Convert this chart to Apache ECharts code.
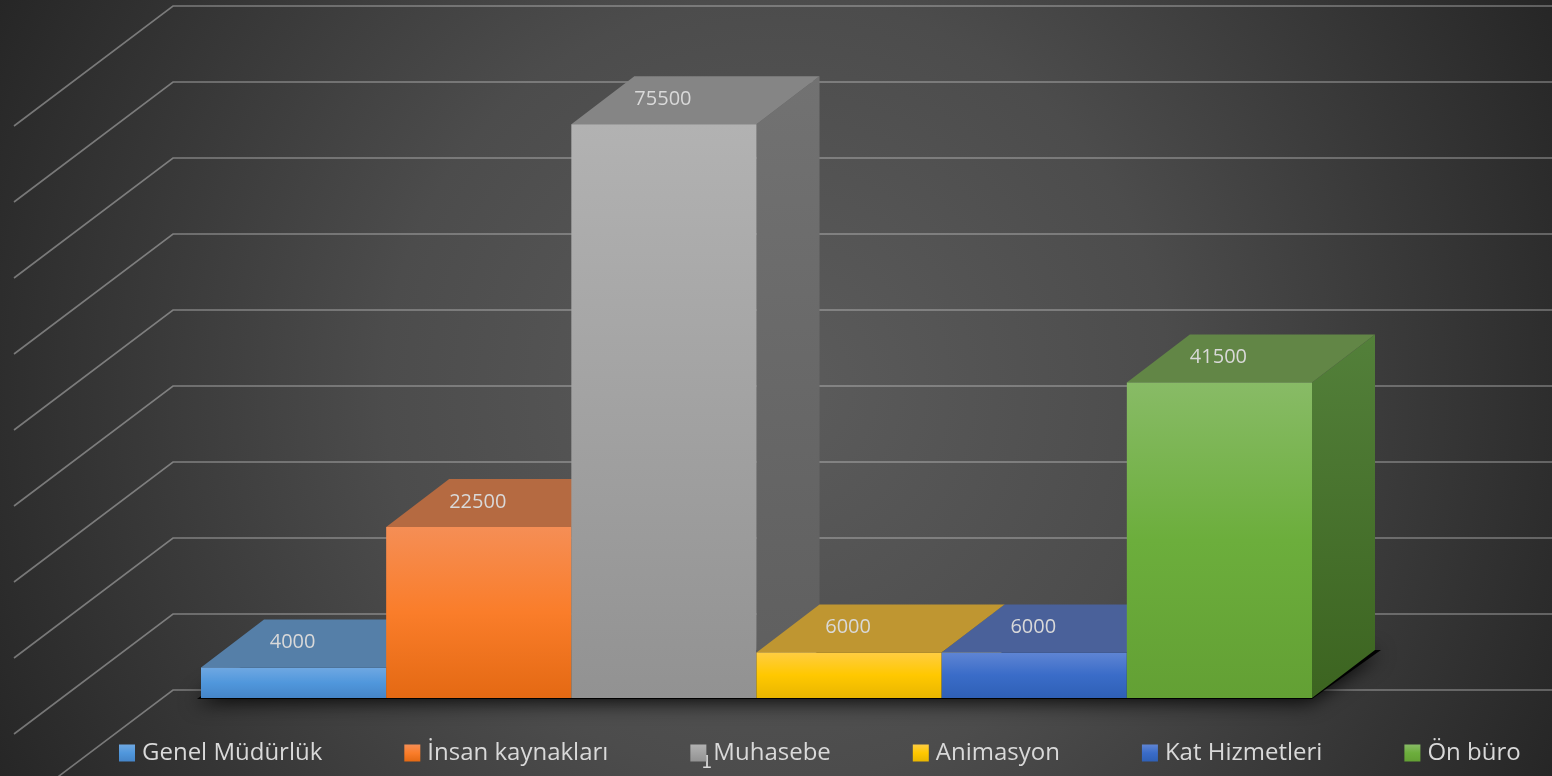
<!DOCTYPE html>
<html>
<head>
<meta charset="utf-8">
<style>
html, body { margin: 0; padding: 0; background: #333; }
#chart { width: 1552px; height: 776px; }
</style>
<script src="https://cdn.jsdelivr.net/npm/echarts@6/dist/echarts.min.js"></script>
</head>
<body>
<div id="chart"></div>
<script>
// veriler
var aNames = ['Genel Müdürlük', 'İnsan kaynakları', 'Muhasebe', 'Animasyon', 'Kat Hizmetleri', 'Ön büro'];
var aValues = [4000, 22500, 75500, 6000, 6000, 41500];
var aGridValues = [0, 10000, 20000, 30000, 40000, 50000, 60000, 70000, 80000, 90000];
var sAxisLabel = '1';

// renkler: on yuz gradyani (ust, orta, alt), ust yuz, yan yuz (ust, alt)
var aFront = [
    ['#6fa8e2', '#5097dc', '#4585c8'],
    ['#f58e55', '#fa7d2a', '#e46913'],
    ['#b2b2b2', '#a2a2a2', '#929292'],
    ['#ffcd42', '#ffc800', '#e9b600'],
    ['#5f85d4', '#3a6cc8', '#2f60b6'],
    ['#88bb66', '#6cae3c', '#63a034']
];
var aTop = ['#557fa8', '#b56a41', '#858585', '#bf9631', '#4a619a', '#628646'];
var aSide = [
    ['#4d749c', '#3c5f84'],
    ['#a85f33', '#94500f'],
    ['#727272', '#5e5e5e'],
    ['#a88414', '#8f7000'],
    ['#3f5c9c', '#2c4a85'],
    ['#53803a', '#3c6420']
];

var iDepthX = 63, iDepthY = 48;     // bar derinligi
var iWallX = 173, iWallShift = -8;  // arka duvar
var iSlantX = 14, iSlantY = 120;    // yan duvar cizgileri

function Gradient(aStops) {
    var aColor = [];
    for (var i = 0; i < aStops.length; i++) {
        aColor.push({offset: i / (aStops.length - 1), color: aStops[i]});
    }
    return {type: 'linear', x: 0, y: 0, x2: 0, y2: 1, colorStops: aColor};
}

function RenderGrid(params, api) {
    var y = api.coord([0, api.value(0)])[1] + iWallShift;
    var oStyle = {stroke: 'rgba(225,225,225,0.42)', lineWidth: 1.6, fill: 'none'};
    return {
        type: 'polyline',
        silent: true,
        shape: {points: [[iSlantX, y + iSlantY], [iWallX, y], [1552, y]]},
        style: oStyle
    };
}

function RenderShadow(params, api) {
    var iLast = aNames.length - 1;
    var aLeft = api.coord([0, 0]);
    var aRight = api.coord([iLast, 0]);
    var w = api.size([1, 0])[0];
    var x0 = aLeft[0] - w / 2, x1 = aRight[0] + w / 2, y = aLeft[1];
    return {
        type: 'polygon',
        silent: true,
        shape: {points: [[x0 - 4, y + 1], [x1, y + 1], [x1 + iDepthX + 6, y - iDepthY], [x0 + iDepthX, y - iDepthY]]},
        style: {fill: 'rgba(0,0,0,0.95)', shadowBlur: 20, shadowColor: 'rgba(0,0,0,0.95)', shadowOffsetX: -2, shadowOffsetY: 3}
    };
}

function RenderBar(params, api) {
    var i = params.seriesIndex - 2;
    var aTopPt = api.coord([api.value(0), api.value(1)]);
    var aBase = api.coord([api.value(0), 0]);
    var w = api.size([1, 0])[0];
    var x0 = aTopPt[0] - w / 2, x1 = aTopPt[0] + w / 2, yTop = aTopPt[1], yBase = aBase[1];
    return {
        type: 'group',
        silent: true,
        children: [
            {
                type: 'polygon',
                shape: {points: [[x1, yTop], [x1 + iDepthX, yTop - iDepthY], [x1 + iDepthX, yBase - iDepthY], [x1, yBase]]},
                style: {fill: Gradient(aSide[i])}
            },
            {
                type: 'polygon',
                shape: {points: [[x0, yTop], [x0 + iDepthX, yTop - iDepthY], [x1 + iDepthX, yTop - iDepthY], [x1, yTop]]},
                style: {fill: aTop[i]}
            },
            {
                type: 'rect',
                shape: {x: x0, y: yTop, width: w, height: yBase - yTop},
                style: {fill: Gradient(aFront[i])}
            },
            {
                type: 'text',
                style: {
                    text: String(api.value(1)),
                    x: aTopPt[0] - 1,
                    y: yTop - 25,
                    align: 'center',
                    verticalAlign: 'middle',
                    fill: '#d9d9d9',
                    font: '20px "Open Sans"'
                }
            }
        ]
    };
}

var aSeries = [
    {
        type: 'custom',
        name: 'grid',
        renderItem: RenderGrid,
        data: aGridValues.map(function (v) { return [v]; }),
        encode: {y: 0},
        z: 1,
        silent: true
    },
    {
        type: 'custom',
        name: 'shadow',
        renderItem: RenderShadow,
        data: [[0]],
        z: 2,
        silent: true
    }
];
for (var i = 0; i < aNames.length; i++) {
    aSeries.push({
        type: 'custom',
        name: aNames[i],
        renderItem: RenderBar,
        data: [[i, aValues[i]]],
        encode: {x: 0, y: 1},
        itemStyle: {color: Gradient(aFront[i])},
        clip: false,
        z: 3 + i
    });
}

var jOption = {
    animation: false,
    backgroundColor: {
        type: 'radial', x: 0.5, y: 0.5, r: 1.12,
        colorStops: [
            {offset: 0, color: '#5c5c5c'},
            {offset: 0.45, color: '#4c4c4c'},
            {offset: 1, color: '#262626'}
        ]
    },
    grid: {left: 201, top: 14, width: 1111, height: 684},
    xAxis: {type: 'category', data: aNames, show: false},
    yAxis: {type: 'value', min: 0, max: 90000, show: false},
    legend: {
        data: aNames,
        left: 119,
        top: 741,
        padding: 0,
        itemWidth: 16,
        itemHeight: 17,
        itemGap: 82,
        icon: 'rect',
        selectedMode: false,
        textStyle: {color: '#d9d9d9', fontFamily: 'Open Sans', fontSize: 24, padding: [0, 0, 0, 2]}
    },
    graphic: [{
        type: 'text',
        z: 0,
        left: 701,
        top: 754,
        style: {text: sAxisLabel, fill: '#d9d9d9', font: '18px "DejaVu Sans"'}
    }],
    series: aSeries
};

var myChart = echarts.init(document.getElementById('chart'));
myChart.setOption(jOption);
</script>
</body>
</html>
